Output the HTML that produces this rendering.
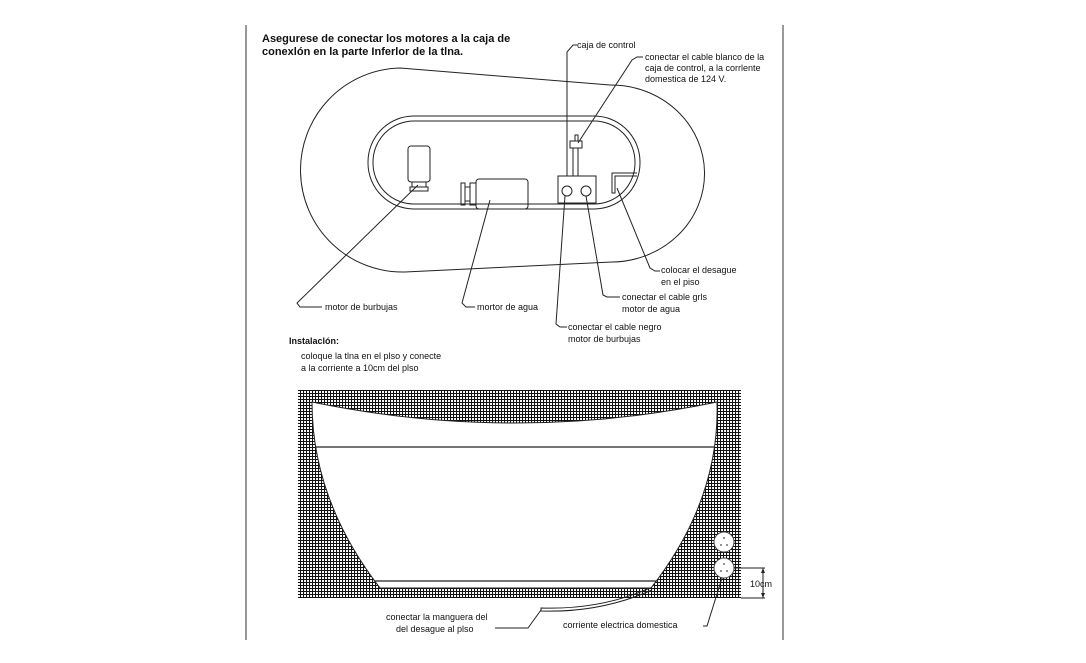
<!DOCTYPE html>
<html><head><meta charset="utf-8"><style>
html,body{margin:0;padding:0;background:#fff;}
svg{display:block;}
text{font-family:"Liberation Sans",sans-serif;font-size:9px;fill:#111;}
.b{font-weight:bold;font-size:11px;}
</style></head><body>
<svg width="1086" height="663" viewBox="0 0 1086 663" xmlns="http://www.w3.org/2000/svg">
<defs>
<pattern id="g" width="3" height="3" patternUnits="userSpaceOnUse">
<rect width="3" height="3" fill="#fff"/>
<path d="M0 0.5H3M0.5 0V3" stroke="#111" stroke-width="1.1"/>
</pattern>
</defs>
<g stroke="#555" stroke-width="1.2"><line x1="246" y1="25" x2="246" y2="640"/><line x1="783" y1="25" x2="783" y2="640"/></g>
<text class="b" x="262" y="42">Asegurese de conectar los motores a la caja de</text>
<text class="b" x="262" y="55">conexlón en la parte Inferlor de la tlna.</text>
<g fill="none" stroke="#222" stroke-width="1">
<path d="M400 68 L610 85 A93 88 0 0 1 612 262 L405 272 A102 102 0 0 1 400 68 Z"/>
<rect x="368" y="116" width="272" height="93" rx="46"/>
<rect x="373" y="121" width="262" height="83" rx="41"/>
<rect x="408" y="146" width="22" height="36" rx="3"/>
<rect x="412" y="182" width="14" height="5"/><rect x="410" y="187" width="18" height="4"/>
<rect x="476" y="179" width="52" height="30" rx="3"/>
<rect x="470" y="183" width="6" height="22"/><rect x="465" y="187" width="5" height="14"/><rect x="461" y="183" width="4" height="22"/>
<rect x="558" y="176" width="38" height="27"/>
<circle cx="567" cy="191" r="5"/><circle cx="586" cy="191" r="5"/>
<rect x="573" y="148" width="5" height="28"/>
<rect x="570" y="141" width="12" height="7"/><rect x="575" y="135" width="3" height="6"/>
<path d="M637 173 H612 V193 H615 V176 H637"/>
<path d="M567 176 V52 L573 45 H577"/>
<path d="M578 143 L632 60 L637 57 H643"/>
<path d="M617 188 L650 268 L655 271 H660"/>
<path d="M586 196 L603 295 L607 297 H620"/>
<path d="M565 196 L556 324 L560 327 H567"/>
<path d="M418 185 L297 303 L300 307 H322"/>
<path d="M490 200 L462 303 L466 307 H475"/>
</g>
<text x="577" y="48">caja de control</text>
<text x="645" y="60">conectar el cable blanco de la</text>
<text x="645" y="71">caja de control, a la corrlente</text>
<text x="645" y="82">domestica de 124 V.</text>
<text x="661" y="273">colocar el desague</text>
<text x="661" y="285">en el piso</text>
<text x="622" y="300">conectar el cable grls</text>
<text x="622" y="312">motor de agua</text>
<text x="568" y="330">conectar el cable negro</text>
<text x="568" y="342">motor de burbujas</text>
<text x="325" y="310">motor de burbujas</text>
<text x="477" y="310">mortor de agua</text>
<text x="289" y="344" style="font-weight:bold">Instalaclón:</text>
<text x="301" y="359">coloque la tlna en el plso y conecte</text>
<text x="301" y="371">a la corriente a 10cm del plso</text>
<rect x="298" y="390" width="443" height="208" fill="url(#g)"/>
<path d="M312 402 Q515 444 717 402 Q720 500 651 588 L380 588 Q312 500 312 402 Z" fill="#fff" stroke="#222" stroke-width="1"/>
<line x1="315" y1="447" x2="714" y2="447" stroke="#222" stroke-width="1.2"/>
<line x1="374" y1="581" x2="656" y2="581" stroke="#222" stroke-width="1.2"/>
<circle cx="724" cy="542" r="10" fill="#fff" stroke="#444"/>
<circle cx="724" cy="568" r="10" fill="#fff" stroke="#444"/>
<g fill="#444"><circle cx="724" cy="538" r="0.9"/><circle cx="721" cy="545" r="0.9"/><circle cx="727" cy="545" r="0.9"/>
<circle cx="724" cy="564" r="0.9"/><circle cx="721" cy="571" r="0.9"/><circle cx="727" cy="571" r="0.9"/></g>
<g fill="none" stroke="#222" stroke-width="1">
<path d="M650 588 Q600 610 541 608 L541 611 Q600 613 652 590"/>
<path d="M541 610 L528 628 H495"/>
<path d="M722 578 L707 626 H703"/>
<path d="M734 568 H765 M741 598 H765 M763 568 V598"/>
</g>
<path d="M763 568 l-2 5 h4z M763 598 l-2 -5 h4z" fill="#222"/>
<text x="750" y="587">10cm</text>
<text x="386" y="620">conectar la manguera del</text>
<text x="396" y="632">del desague al plso</text>
<text x="563" y="628">corriente electrica domestica</text>
</svg>
</body></html>
